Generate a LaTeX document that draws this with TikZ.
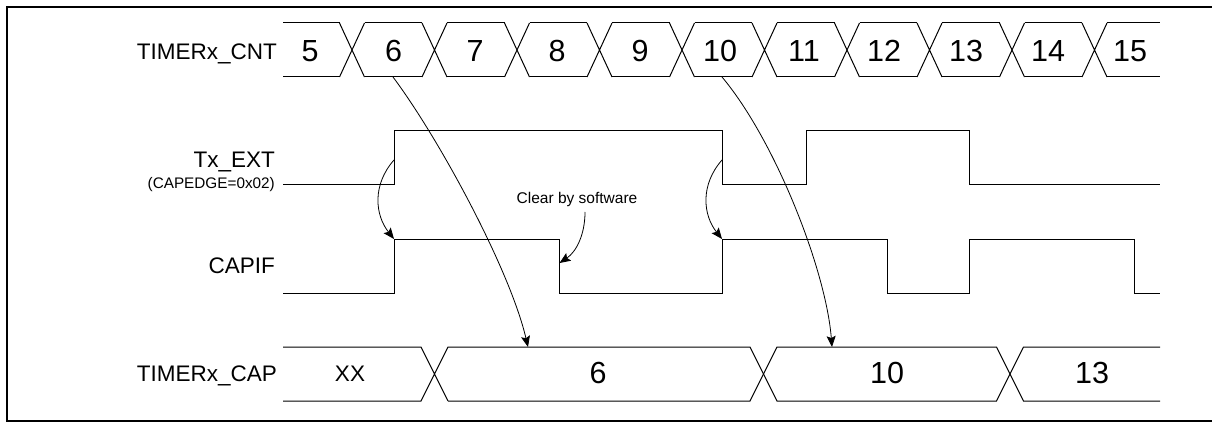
\documentclass[tikz,border=0pt]{standalone}
\usepackage{fontspec}
\setmainfont{Liberation Sans}
\usetikzlibrary{arrows.meta}
\begin{document}
\begin{tikzpicture}[x=1pt,y=-1pt,
  sig/.style={line width=1pt, line join=miter},
  lbl/.style={anchor=base east, font=\fontsize{22.5}{26}\selectfont, inner sep=0pt},
  sublbl/.style={anchor=base east, font=\fontsize{15.3}{18}\selectfont, inner sep=0pt},
  val/.style={anchor=base, font=\fontsize{30.5}{34}\selectfont, inner sep=0pt},
  xxval/.style={anchor=base, font=\fontsize{22.5}{26}\selectfont, inner sep=0pt},
  note/.style={anchor=base, font=\fontsize{15.5}{18}\selectfont, inner sep=0pt},
  arr/.style={line width=0.8pt, -{Stealth[length=11pt,width=9pt,inset=2pt]}},
]
\useasboundingbox (0,0) rectangle (1212,422);
\draw[line width=2pt] (7,7) rectangle (1222,421);

% labels
\node[lbl] (lcnt) at (277,60) {TIMERx\_CNT};
\node[lbl] (lext) at (275,167.5) {Tx\_EXT};
\node[sublbl] (ledge) at (275,188.5) {(CAPEDGE=0x02)};
\node[lbl] (lcapif) at (275,273.5) {CAPIF};
\node[lbl] (lcap) at (277,381.7) {TIMERx\_CAP};

% TIMERx_CNT bus
\draw[sig] (283,23) -- (339.5,23) (283,77) -- (339.5,77);
\foreach \c in {352,434.5,517,599.5,682,764.5,847,929.5,1012,1094.5}
  \draw[sig] (\c-12.5,23) -- (\c+12.5,77) (\c-12.5,77) -- (\c+12.5,23);
\foreach \a/\b in {352/434.5,434.5/517,517/599.5,599.5/682,682/764.5,764.5/847,847/929.5,929.5/1012,1012/1094.5}
  \draw[sig] (\a+12.5,23) -- (\b-12.5,23) (\a+12.5,77) -- (\b-12.5,77);
\draw[sig] (1107,23) -- (1160,23) (1107,77) -- (1160,77);

\node[val] (c5) at (310,61.7) {5};
\node[val] (c6) at (393.5,61.7) {6};
\node[val] (c7) at (475,61.7) {7};
\node[val] (c8) at (557,61.7) {8};
\node[val] (c9) at (640,61.7) {9};
\node[val] (c10) at (720,61.7) {10};
\node[val] (c11) at (804,61.7) {11};
\node[val] (c12) at (884,61.7) {12};
\node[val] (c13) at (966,61.7) {13};
\node[val] (c14) at (1048,61.7) {14};
\node[val] (c15) at (1130,61.7) {15};

% Tx_EXT
\draw[sig] (283,185) -- (394,185) -- (394,131) -- (722,131) -- (722,185)
  -- (806,185) -- (806,131) -- (969,131) -- (969,185) -- (1160,185);

% CAPIF
\draw[sig] (283,293) -- (394,293) -- (394,239) -- (559,239) -- (559,293)
  -- (722,293) -- (722,239) -- (887,239) -- (887,293) -- (969,293)
  -- (969,239) -- (1134,239) -- (1134,293) -- (1160,293);

% TIMERx_CAP bus
\draw[sig] (283,347) -- (421,347) -- (448,401) (283,401) -- (421,401) -- (448,347)
  -- (750,347) -- (777,401) -- (996.5,401) -- (1023.5,347) -- (1160,347);
\draw[sig] (448,401) -- (750,401) -- (777,347) -- (996.5,347) -- (1023.5,401) -- (1160,401);

\node[xxval] (vxx) at (350,381.7) {XX};
\node[val] (v6) at (598,383.3) {6};
\node[val] (v10) at (887,383.3) {10};
\node[val] (v13) at (1092,383.3) {13};

\node[note] (clr) at (577,203.5) {Clear by software};

% arrow end points
\coordinate (a1s) at (393,77);
\coordinate (a1e) at (528,347);
\coordinate (a2s) at (722,77);
\coordinate (a2e) at (832,347);
\coordinate (a3s) at (394,160);
\coordinate (a3e) at (394,239);
\coordinate (a4s) at (722,160);
\coordinate (a4e) at (722,239);
\coordinate (a5s) at (585,212);
\coordinate (a5e) at (559.5,263);

\draw[arr] (a1s) .. controls (440,140) and (510,270) .. (a1e);
\draw[arr] (a2s) .. controls (775,140) and (826,270) .. (a2e);
\draw[arr] (a3s) .. controls (372,185) and (375,215) .. (a3e);
\draw[arr] (a4s) .. controls (700,185) and (703,215) .. (a4e);
\draw[arr] (a5s) .. controls (585,235) and (576,252) .. (a5e);
\end{tikzpicture}
\end{document}
